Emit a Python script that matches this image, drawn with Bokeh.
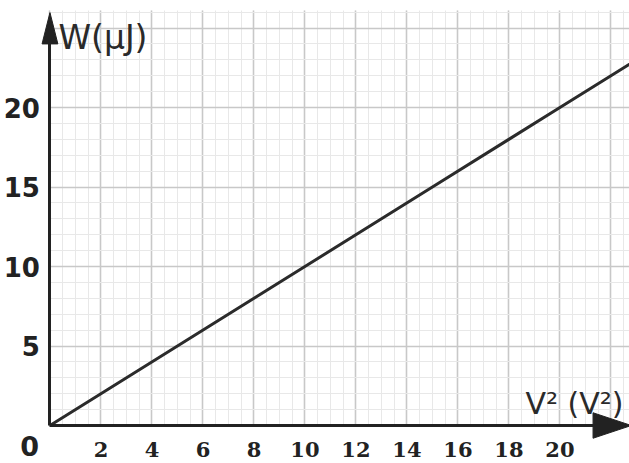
from bokeh.plotting import figure
from bokeh.models import Range1d, FixedTicker, Label
from bokeh.embed import file_html
from bokeh.resources import INLINE

# ---- data ----
v_squared = [0, 5, 10, 15, 20, 23]          # V^2 (V^2)
energy_uJ = [0, 5, 10, 15, 20, 23]          # W (uJ)
x_tick_values = [2, 4, 6, 8, 10, 12, 14, 16, 18, 20]
y_tick_values = [5, 10, 15, 20]
x_grid_major = [0, 2, 4, 6, 8, 10, 12, 14, 16, 18, 20, 22]
x_grid_minor = [i * 0.5 for i in range(0, 46)]
y_grid_major = [0, 5, 10, 15, 20, 25]
y_grid_minor = list(range(0, 27))
x_title = "V\u00b2 (V\u00b2)"
y_title = "W(\u03bcJ)"
origin_label = "0"

# ---- layout ----
X_MIN, X_MAX = -1.94, 22.73
Y_MIN, Y_MAX = -2.39, 26.73
GRID_TOP = 26.1
AXIS_COLOR = "#222222"
TEXT_COLOR = "#2a2a2a"

p = figure(width=629, height=463,
           x_range=Range1d(X_MIN, X_MAX), y_range=Range1d(Y_MIN, Y_MAX),
           output_backend="svg", toolbar_location=None, min_border=0)
p.outline_line_color = None
p.background_fill_color = "white"
p.border_fill_color = "white"

# grids
p.xgrid.ticker = FixedTicker(ticks=x_grid_major, minor_ticks=x_grid_minor)
p.ygrid.ticker = FixedTicker(ticks=y_grid_major, minor_ticks=y_grid_minor)
p.xgrid.bounds = (0, X_MAX)
p.ygrid.bounds = (0, GRID_TOP)
p.xgrid.cross_bounds = (0, GRID_TOP)
p.ygrid.cross_bounds = (0, X_MAX)
for g in (p.xgrid[0], p.ygrid[0]):
    g.grid_line_color = "#c8c8c8"
    g.grid_line_width = 1.6
    g.minor_grid_line_color = "#e8e8e8"
    g.minor_grid_line_width = 1

# axes through the origin
for ax in (p.xaxis[0], p.yaxis[0]):
    ax.fixed_location = 0
    ax.axis_line_color = AXIS_COLOR
    ax.axis_line_width = 3
    ax.major_tick_line_color = None
    ax.minor_tick_line_color = None
    ax.major_label_text_color = AXIS_COLOR
    ax.major_label_text_font_style = "bold"

p.xaxis.ticker = FixedTicker(ticks=x_tick_values)
p.xaxis.bounds = (0, 21.4)
p.xaxis.major_label_text_font = "DejaVu Serif"
p.xaxis.major_label_text_font_size = "21px"
p.xaxis.major_label_standoff = 11

p.yaxis.ticker = FixedTicker(ticks=y_tick_values)
p.yaxis.bounds = (0, 24.5)
p.yaxis.major_label_text_font = "DejaVu Sans"
p.yaxis.major_label_text_font_size = "26px"
p.yaxis.major_label_standoff = 4

# arrow heads at the ends of the axes
y_tip, y_base, y_half = 25.97, 24.0, 0.31
p.patch(x=[-y_half, 0, y_half], y=[y_base, y_tip, y_base], color=AXIS_COLOR)
x_tip, x_base, x_half = 22.8, 21.3, 0.8
p.patch(x=[x_base, x_tip, x_base], y=[-x_half, 0, x_half], color=AXIS_COLOR)

# the data line
p.line(v_squared, energy_uJ, line_color="#2b2b2b", line_width=3)

# texts
p.add_layout(Label(x=0.33, y=24.4, text=y_title, text_font="DejaVu Sans",
                   text_font_size="33px", text_color=TEXT_COLOR,
                   text_baseline="alphabetic", text_align="left"))
p.add_layout(Label(x=18.65, y=1.38, text=x_title, text_font="DejaVu Sans",
                   text_font_size="30px", text_color=TEXT_COLOR,
                   text_baseline="alphabetic", text_align="left"))
p.add_layout(Label(x=-0.8, y=-1.3, text=origin_label, text_font="DejaVu Sans",
                   text_font_size="27px", text_font_style="bold", text_color=AXIS_COLOR,
                   text_baseline="middle", text_align="center"))

open("out.html", "w").write(file_html(p, INLINE))
